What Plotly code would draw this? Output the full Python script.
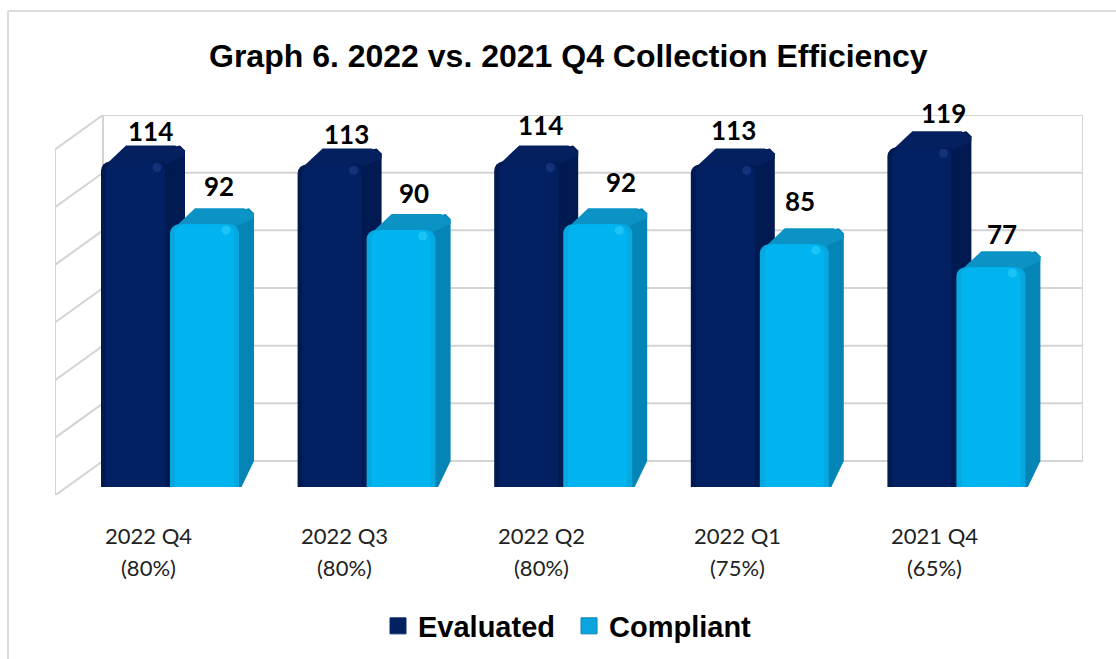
import plotly.graph_objects as go

# ---- data ----
quarters = ["2022 Q4", "2022 Q3", "2022 Q2", "2022 Q1", "2021 Q4"]
targets = ["(80%)", "(80%)", "(80%)", "(75%)", "(65%)"]
evaluated = [114, 113, 114, 113, 119]
compliant = [92, 90, 92, 85, 77]
title_text = "Graph 6. 2022 vs. 2021 Q4 Collection Efficiency"

# ---- styling / geometry ----
W, H = 1116, 659
PL, PR, PT, PB = 55, 1083, 115, 495      # plot area in pixels
STEP = 196.6                             # px per category
Y0 = 487; PXU = 2.855                    # front-plane baseline / px per unit
X_C0 = 170                               # px of first pair centre
BAR = 69 / STEP
DX = 15 / STEP; DY = 16 / PXU            # bar depth
WALL_DX = 48 / STEP; WALL_DY = 34.5 / 2.883
xr = [(PL - X_C0) / STEP, (PR - X_C0) / STEP]
yr = [(Y0 - PB) / PXU, (Y0 - PT) / PXU]
y2r = [-34 / 2.883, 120]
GRID = "#d4d4d4"
pos = list(range(len(quarters)))

# per-label offsets (px) as in the reference
ev_dx = [15, 14, 12, 8, 22]
ev_dy = [15, 14, 21, 18, 18]
co_dx = [14, 13, 23, 6, 11]
co_dy = [22, 21, 26, 27, 17]

fig = go.Figure()

# back wall and left wall, drawn against the back-wall axis
back_x = xr[0] + WALL_DX
wall_x, wall_y = [], []
for g in range(0, 121, 20):
    wall_x += [xr[0], back_x, xr[1], None]
    wall_y += [g - WALL_DY, g, g, None]
wall_x += [xr[0], xr[0], None, back_x, back_x, None, xr[1], xr[1]]
wall_y += [-WALL_DY, 120 - WALL_DY, None, 0, 120, None, 0, 120]
fig.add_trace(go.Scatter(
    x=wall_x, y=wall_y, yaxis="y2", mode="lines", cliponaxis=False, zorder=0,
    line=dict(color=GRID, width=2), hoverinfo="skip", showlegend=False))


def bar3d(values, offset, front, edge, top, side, spot, z):
    x_left = [p + offset for p in pos]
    x_right = [x + BAR for x in x_left]
    c = 5 / STEP; cy = 5 / PXU
    for xl, xr_, v in zip(x_left, x_right, values):
        # side face
        fig.add_trace(go.Scatter(
            x=[xr_ - c, xr_ + DX - c, xr_ + DX, xr_ + DX, xr_ + c / 2, xr_ - c],
            y=[v - DY * .2 + DY, v + DY, v + DY - cy, DY + 2 * cy, 0, 0],
            mode="lines", fill="toself", fillcolor=side, line=dict(color=side, width=0),
            hoverinfo="skip", showlegend=False, zorder=z))
        # top face
        fig.add_trace(go.Scatter(
            x=[xl + c, xl + DX + 2 * c, xr_ + DX - 2 * c, xr_ + DX, xr_ + DX, xr_ - c, xl + c],
            y=[v - 1, v + DY, v + DY, v + DY - cy, v + DY - 2 * cy, v - 1, v - 1],
            mode="lines", fill="toself", fillcolor=top, line=dict(color=top, width=0),
            hoverinfo="skip", showlegend=False, zorder=z))
    # front face, layered for the soft bevel
    for k, (inset, col) in enumerate(((0, edge), (5 / STEP, front))):
        fig.add_trace(go.Bar(
            x=[(a + b) / 2 for a, b in zip(x_left, x_right)], y=values,
            width=BAR - 2 * inset, marker=dict(color=col, line=dict(width=0), cornerradius=9),
            hoverinfo="skip", showlegend=False, zorder=z + 1 + k))
    fig.add_trace(go.Scatter(
        x=[x - 13 / STEP for x in x_right], y=[v - 6 / PXU for v in values], mode="markers",
        marker=dict(size=9, color=spot, opacity=.45, line=dict(width=0)),
        hoverinfo="skip", showlegend=False, zorder=z + 3))


bar3d(evaluated, -BAR, "#022062", "#011a52", "#04205e", "#011a52", "#2a4a9a", 1)
bar3d(compliant, 0, "#00b4f0", "#06a8df", "#0a93c4", "#0585b5", "#3fd4ff", 5)

# legend entries
for name, col, edge in (("Evaluated", "#04215f", "#0a2a70"), ("Compliant", "#0aa5dc", "#0585b5")):
    fig.add_trace(go.Scatter(
        x=[None], y=[None], mode="markers", name=name,
        marker=dict(symbol="square", size=16, color=col, line=dict(color=edge, width=1))))

LBL = dict(family="Lato", size=26, color="#000000", weight="bold")
ann = []
for i, p in enumerate(pos):
    ann.append(dict(x=p - BAR / 2, y=evaluated[i], text=str(evaluated[i]), showarrow=False, yanchor="middle",
                    xshift=ev_dx[i], yshift=DY * PXU + ev_dy[i], font=LBL, xref="x", yref="y"))
    ann.append(dict(x=p + BAR / 2, y=compliant[i], text=str(compliant[i]), showarrow=False, yanchor="middle",
                    xshift=co_dx[i], yshift=DY * PXU + co_dy[i], font=LBL, xref="x", yref="y"))
    for txt, py in ((quarters[i], 535), (targets[i], 567)):
        ann.append(dict(x=p - 22 / STEP, y=(PB - py) / (PB - PT), text=txt, showarrow=False, yanchor="middle",
                        xref="x", yref="paper", font=dict(family="Lato", size=22, color="#222222")))
ann.append(dict(x=(568 - PL) / (PR - PL), y=(PB - 56) / (PB - PT), xref="paper", yref="paper", yanchor="middle",
                text="<b>" + title_text + "</b>", showarrow=False,
                font=dict(family="Liberation Sans", size=32, color="#000000")))

fig.update_layout(
    width=W, height=H, autosize=False,
    margin=dict(l=PL, r=W - PR, t=PT, b=H - PB, pad=0, autoexpand=False),
    paper_bgcolor="#ffffff", plot_bgcolor="rgba(0,0,0,0)",
    barmode="overlay",
    xaxis=dict(range=xr, showgrid=False, zeroline=False, showticklabels=False, ticks="", fixedrange=True),
    yaxis=dict(range=yr, showgrid=False, zeroline=False, showticklabels=False, ticks="", fixedrange=True),
    yaxis2=dict(range=y2r, overlaying="y", side="left", showgrid=False,
                zeroline=False, showticklabels=False, ticks="", fixedrange=True),
    legend=dict(orientation="h", x=(378 - PL) / (PR - PL), y=(PB - 626) / (PB - PT),
                xanchor="left", yanchor="middle", bgcolor="rgba(0,0,0,0)", itemwidth=30,
                entrywidth=146, entrywidthmode="pixels",
                itemsizing="trace", font=dict(family="Liberation Sans", size=29, color="#000000", weight="bold")),
    annotations=ann,
    shapes=[
        dict(type="line", xref="paper", yref="paper", x0=(8 - PL) / (PR - PL), x1=(W - PL) / (PR - PL),
             y0=(PB - 11) / (PB - PT), y1=(PB - 11) / (PB - PT), line=dict(color="#dcdcdc", width=2)),
        dict(type="line", xref="paper", yref="paper", x0=(8 - PL) / (PR - PL), x1=(8 - PL) / (PR - PL),
             y0=(PB - 11) / (PB - PT), y1=(PB - H) / (PB - PT), line=dict(color="#dcdcdc", width=2)),
    ],
)

fig.write_html("out.html", config={"displayModeBar": False},
               post_script="document.body.style.margin='0';document.body.style.overflow='hidden';")
